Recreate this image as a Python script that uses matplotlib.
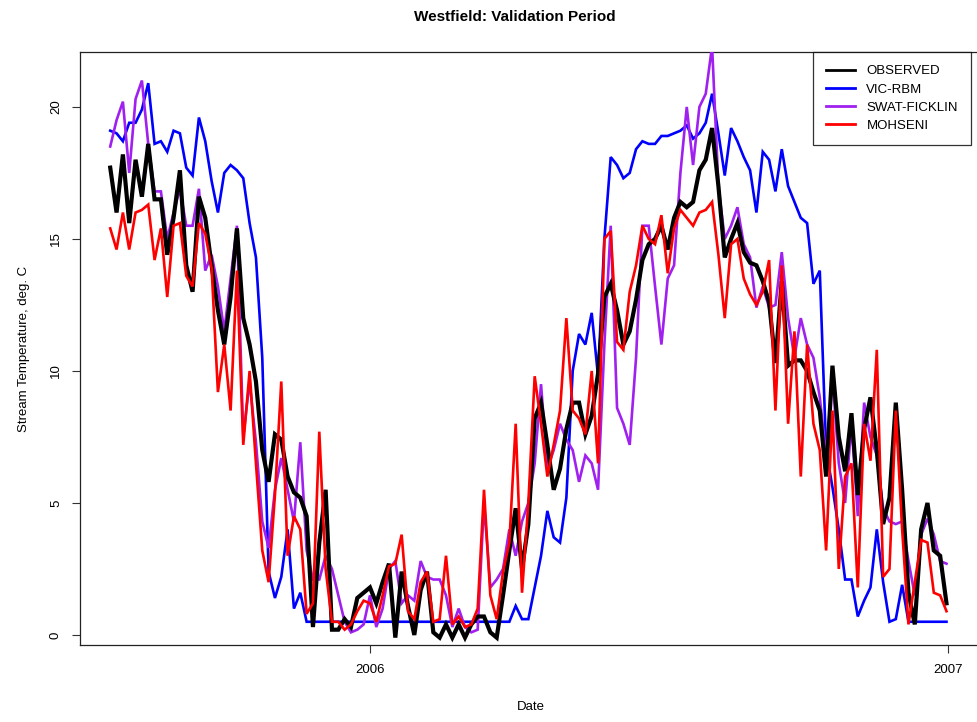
import numpy as np
import matplotlib
matplotlib.use("Agg")
import matplotlib.pyplot as plt
from matplotlib.lines import Line2D

plt.rcParams['font.family'] = ['Liberation Sans', 'DejaVu Sans']

# ---- data (values every 4 days, starting 2005-07-21) ----
start_date = np.datetime64('2005-07-21')
step_days = 4

observed = [17.7, 16.0, 18.2, 15.6, 18.0, 16.6, 18.6, 16.5, 16.5, 14.4,
            15.8, 17.6, 14.0, 13.0, 16.6, 15.8, 14.0, 12.3, 11.0, 12.8,
            15.4, 12.0, 11.0, 9.6, 7.0, 5.8, 7.6, 7.4, 6.0, 5.4,
            5.2, 4.5, 0.3, 3.5, 5.5, 0.2, 0.2, 0.6, 0.3, 1.4,
            1.6, 1.8, 1.2, 2.0, 2.7, -0.1, 2.4, 1.1, 0.0, 1.7,
            2.4, 0.1, -0.1, 0.4, -0.1, 0.4, -0.1, 0.4, 0.7, 0.7,
            0.1, -0.1, 1.5, 3.2, 4.8, 2.5, 4.2, 8.2, 8.8, 7.2,
            5.5, 6.3, 7.8, 8.8, 8.8, 7.6, 8.3, 9.9, 12.8, 13.3,
            12.3, 11.0, 11.5, 12.7, 14.2, 14.8, 15.0, 15.5, 14.6, 15.8,
            16.4, 16.2, 16.4, 17.6, 18.0, 19.2, 17.0, 14.3, 15.0, 15.6,
            14.5, 14.1, 14.0, 13.4, 12.6, 10.3, 13.4, 10.2, 10.4, 10.4,
            10.0, 9.2, 8.5, 6.0, 10.2, 7.5, 6.2, 8.4, 5.3, 7.8,
            9.0, 7.0, 4.2, 5.2, 8.8, 5.5, 1.6, 0.4, 4.0, 5.0,
            3.2, 3.0, 1.2]

vic_rbm = [19.1, 19.0, 18.7, 19.4, 19.4, 19.9, 20.9, 18.6, 18.7, 18.3,
           19.1, 19.0, 17.7, 17.4, 19.6, 18.7, 17.2, 16.0, 17.5, 17.8,
           17.6, 17.3, 15.6, 14.3, 10.5, 2.4, 1.4, 2.2, 4.0, 1.0,
           1.6, 0.5, 0.5, 0.5, 0.5, 0.5, 0.5, 0.5, 0.5, 0.5,
           0.5, 0.5, 0.5, 0.5, 0.5, 0.5, 0.5, 0.5, 0.5, 0.5,
           0.5, 0.5, 0.5, 0.5, 0.5, 0.5, 0.5, 0.5, 0.5, 0.5,
           0.5, 0.5, 0.5, 0.5, 1.1, 0.6, 0.6, 1.8, 3.0, 4.7,
           3.7, 3.5, 5.2, 10.0, 11.4, 11.0, 12.2, 9.8, 15.0, 18.1,
           17.8, 17.3, 17.5, 18.4, 18.7, 18.6, 18.6, 18.9, 18.9, 19.0,
           19.1, 19.3, 18.8, 19.0, 19.4, 20.5, 19.0, 17.4, 19.2, 18.7,
           18.1, 17.6, 16.0, 18.3, 18.0, 16.8, 18.4, 17.0, 16.4, 15.8,
           15.6, 13.3, 13.8, 7.0, 5.6, 4.0, 2.1, 2.1, 0.7, 1.3,
           1.8, 4.0, 2.0, 0.5, 0.6, 1.9, 0.5, 0.5, 0.5, 0.5,
           0.5, 0.5, 0.5]

swat_ficklin = [18.5, 19.5, 20.2, 17.5, 20.3, 21.0, 18.6, 16.8, 16.8, 15.0,
                16.0, 16.9, 15.5, 15.5, 16.9, 13.8, 14.4, 13.2, 11.5, 13.5,
                15.5, 7.5, 9.6, 7.3, 4.3, 3.3, 5.5, 6.7, 5.5, 4.3,
                7.3, 3.2, 2.1, 2.1, 3.0, 2.5, 1.5, 0.5, 0.1, 0.2,
                0.4, 1.5, 0.3, 1.0, 2.5, 2.8, 1.2, 1.5, 1.3, 2.8,
                2.2, 2.1, 2.1, 1.5, 0.3, 1.0, 0.3, 0.1, 0.2, 5.0,
                1.8, 2.1, 2.5, 4.0, 3.0, 4.3, 5.0, 6.5, 9.5, 6.3,
                7.0, 8.0, 7.4, 7.0, 5.8, 6.8, 6.5, 5.5, 11.0, 15.5,
                8.6, 8.0, 7.2, 10.5, 15.5, 15.5, 13.2, 11.0, 13.5, 14.0,
                17.5, 20.0, 17.8, 20.0, 20.5, 22.3, 17.0, 15.0, 15.5, 16.2,
                14.8, 14.3, 12.4, 13.2, 12.4, 12.5, 14.5, 12.0, 10.5, 12.0,
                11.0, 10.5, 9.0, 6.8, 9.8, 6.5, 5.0, 8.0, 4.5, 8.8,
                7.5, 6.8, 4.8, 4.3, 4.2, 4.3, 2.8, 1.5, 3.8, 4.4,
                3.8, 2.8, 2.7]

mohseni = [15.4, 14.6, 16.0, 14.6, 16.0, 16.1, 16.3, 14.2, 15.4, 12.8,
           15.5, 15.6, 13.6, 13.2, 15.6, 15.2, 13.9, 9.2, 11.0, 8.5,
           13.8, 7.2, 10.0, 6.5, 3.2, 2.0, 5.3, 9.6, 3.0, 4.5,
           4.0, 0.8, 1.2, 7.7, 2.5, 0.5, 0.5, 0.2, 0.4, 0.9,
           1.3, 1.2, 0.5, 1.5, 2.6, 2.7, 3.8, 0.9, 0.6, 2.0,
           2.4, 0.5, 0.6, 3.0, 0.4, 0.7, 0.3, 0.4, 1.0, 5.5,
           1.5, 0.6, 2.4, 3.5, 8.0, 1.6, 5.0, 9.8, 8.0, 6.0,
           7.2, 8.5, 12.0, 8.5, 8.2, 7.6, 10.0, 6.5, 15.0, 15.3,
           11.1, 10.8, 13.0, 14.0, 15.5, 15.0, 14.8, 15.9, 13.7, 15.4,
           16.1, 15.8, 15.5, 16.0, 16.1, 16.4, 14.4, 12.0, 14.8, 15.0,
           13.5, 12.9, 12.5, 13.0, 14.2, 8.5, 14.0, 8.0, 11.5, 6.0,
           11.0, 8.0, 7.0, 3.2, 8.5, 2.5, 6.0, 6.5, 1.8, 8.0,
           6.6, 10.8, 2.2, 2.5, 8.5, 4.0, 0.4, 2.0, 3.6, 3.5,
           1.6, 1.5, 0.9]

series_names = ['OBSERVED', 'VIC-RBM', 'SWAT-FICKLIN', 'MOHSENI']
series_colors = ['#000000', '#0000FF', '#A020F0', '#FF0000']

x_ticks = [np.datetime64('2006-01-01'), np.datetime64('2007-01-01')]
x_tick_labels = ['2006', '2007']
y_ticks = [0, 5, 10, 15, 20]

n = len(observed)
dates = (start_date + np.arange(n) * np.timedelta64(step_days, 'D')).astype('datetime64[s]').astype(object)

W, H = 977, 722
fig = plt.figure(figsize=(W / 100, H / 100), dpi=100)
ax = fig.add_axes([80 / W, 1 - 645 / H, (981 - 80) / W, (645 - 52) / H])

ax.plot(dates, vic_rbm, color=series_colors[1], lw=1.9, zorder=2, solid_joinstyle='miter')
ax.plot(dates, swat_ficklin, color=series_colors[2], lw=1.9, zorder=3, solid_joinstyle='miter')
ax.plot(dates, observed, color=series_colors[0], lw=3.0, zorder=4, solid_joinstyle='miter')
ax.plot(dates, mohseni, color=series_colors[3], lw=1.9, zorder=5, solid_joinstyle='miter')

ref = np.datetime64('2006-01-01')
x0 = (ref - np.timedelta64(int(183.1 * 24), 'h')).astype('datetime64[s]').astype(object)
x1 = (ref + np.timedelta64(int(385.8 * 24), 'h')).astype('datetime64[s]').astype(object)
ax.set_xlim(x0, x1)
ax.set_ylim(-0.38, 22.08)

ax.set_xticks([t.astype('datetime64[s]').astype(object) for t in x_ticks])
ax.set_xticklabels(x_tick_labels, fontsize=9.5)
ax.set_yticks(y_ticks)
ax.set_yticklabels([str(v) for v in y_ticks], fontsize=9.5, rotation=90, va='center')
ax.tick_params(axis='both', direction='out', length=6, width=0.8, colors='#333333', labelcolor='black')
ax.tick_params(axis='x', pad=8)
ax.tick_params(axis='y', pad=7)
for s in ax.spines.values():
    s.set_linewidth(0.9)
    s.set_color('#222222')

ax.set_xlabel('Date', fontsize=9.5, labelpad=18)
ax.set_ylabel('Stream Temperature, deg. C', fontsize=9.5, labelpad=14)
fig.text(515 / W, 1 - 17 / H, 'Westfield: Validation Period', ha='center', va='center',
         fontsize=11, fontweight='bold')

handles = [Line2D([0], [0], color=c, lw=2.0) for c in series_colors]
leg = fig.legend(handles, series_names, loc='upper left',
                 bbox_to_anchor=(813 / W, 1 - 52 / H), bbox_transform=fig.transFigure,
                 fontsize=9.5, frameon=True, fancybox=False, edgecolor='black',
                 handlelength=2.2, handletextpad=0.85, labelspacing=0.45,
                 borderpad=1.0, borderaxespad=0.0)
leg.get_frame().set_linewidth(0.9)

fig.savefig('out.png', dpi=100)
